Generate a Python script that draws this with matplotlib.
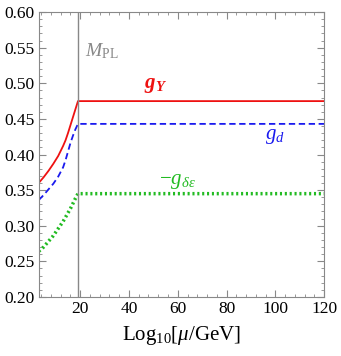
import numpy as np
import matplotlib
matplotlib.use("Agg")
import matplotlib.pyplot as plt
from matplotlib.ticker import MultipleLocator

plt.rcParams['font.family'] = ['Liberation Serif', 'DejaVu Serif']
plt.rcParams['mathtext.fontset'] = 'custom'
plt.rcParams['mathtext.rm'] = 'Liberation Serif'
plt.rcParams['mathtext.it'] = 'Liberation Serif:italic'
plt.rcParams['mathtext.bf'] = 'Liberation Serif:bold:italic'

# log10(mu/GeV) sample points along the running and the Planck scale
x_run = [3, 5, 7, 9, 11, 13, 14, 15, 16, 17, 18, 19.1]
x_end = 120
x_pl = 19.1

g_Y = [0.360, 0.368, 0.377, 0.387, 0.398, 0.412, 0.420, 0.430, 0.441, 0.452, 0.463, 0.475]
g_d = [0.336, 0.343, 0.351, 0.359, 0.369, 0.382, 0.392, 0.404, 0.416, 0.426, 0.435, 0.443]
g_de = [0.264, 0.270, 0.278, 0.286, 0.296, 0.306, 0.312, 0.318, 0.324, 0.331, 0.338, 0.345]

red, blue, green, grey = '#ee1111', '#1a1aee', '#22bb22', '#888888'

fig = plt.figure(figsize=(3.41, 3.56), dpi=100)
ax = fig.add_axes([0.1135, 0.166, 0.837, 0.800])

xs = x_run + [x_end]
ax.plot(xs, g_Y + [g_Y[-1]], color=red, lw=1.3)
ax.plot(xs, g_d + [g_d[-1]], color=blue, lw=1.3, ls=(0, (3.5, 2)))
ax.plot(xs, g_de + [g_de[-1]], color=green, lw=2.5, ls=(0, (0.6, 0.8)))
ax.axvline(x_pl, color=grey, lw=1.0)

ax.text(22, 0.545, r'$M_{\mathrm{PL}}$', color=grey, fontsize=14, va='center')
ax.text(51, 0.497, r'$\mathbf{g}_{\mathbf{Y}}$', color=red, fontsize=15, ha='center', va='center')
ax.text(100, 0.425, r'$g_d$', color=blue, fontsize=15, ha='center', va='center')
ax.text(60, 0.362, r'$-g_{\delta\epsilon}$', color=green, fontsize=15, ha='center', va='center')

ax.set_xlim(3, 120)
ax.set_ylim(0.2, 0.6)
ax.xaxis.set_major_locator(MultipleLocator(20))
ax.xaxis.set_minor_locator(MultipleLocator(4))
ax.yaxis.set_major_locator(MultipleLocator(0.05))
ax.yaxis.set_minor_locator(MultipleLocator(0.01))
ax.set_yticks(ax.get_yticks())
ax.set_yticklabels([f'{v:.2f}' for v in ax.get_yticks()])
ax.set_ylim(0.2, 0.6)
ax.tick_params(which='both', direction='in', top=True, right=True, color=grey,
               labelsize=12.5, pad=3)
ax.tick_params(which='major', length=5)
ax.tick_params(which='minor', length=2.5)
for s in ax.spines.values():
    s.set_color(grey)
ax.set_xlabel(r'Log$_{10}$[$\mu$/GeV]', fontsize=15, labelpad=5)

fig.savefig('out.png', dpi=100)
